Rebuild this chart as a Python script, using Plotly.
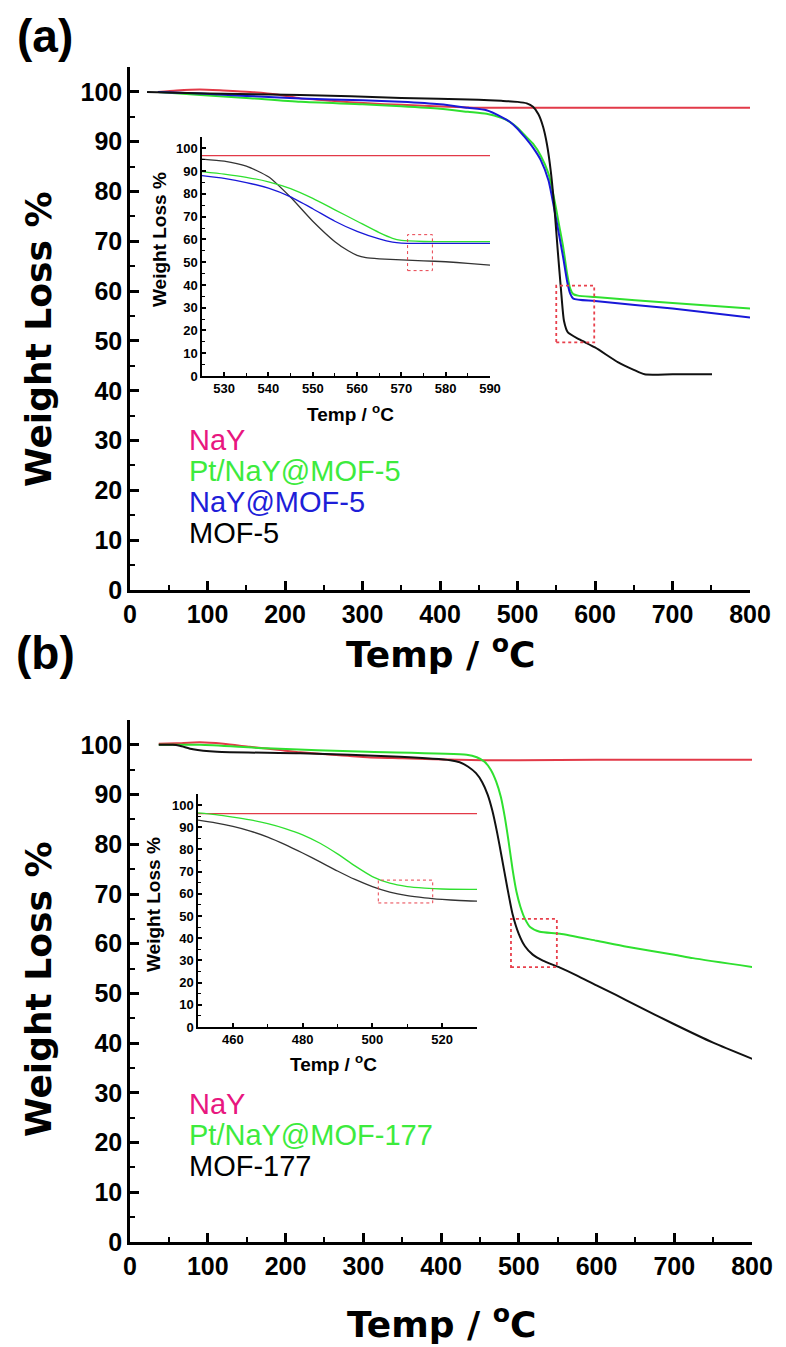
import plotly.graph_objects as go

W, H = 786, 1347

# ---------------- Panel (a) main data ----------------
a_nay_x = [36, 60, 90, 120, 155, 190, 220, 260, 307, 350, 393, 430, 457, 500, 600, 700, 800]
a_nay_y = [100, 100.3, 100.5, 100.3, 100.0, 99.5, 98.7, 98.2, 97.7, 97.4, 97.1, 96.9, 96.8, 96.8, 96.8, 96.8, 96.8]

a_pt_x = [36, 91, 150, 220, 300, 350, 400, 436, 460, 479, 490, 500, 510, 520, 530, 540, 548, 554, 559, 564, 568, 572, 578, 600, 700, 801]
a_pt_y = [100, 99.4, 98.8, 98.0, 97.5, 97.1, 96.6, 96.0, 95.6, 94.8, 94.0, 92.8, 91.2, 89.6, 87.2, 83.6, 78.0, 73.0, 68.8, 63.5, 60.5, 59.4, 59.1, 58.8, 57.6, 56.5]

a_naymof_x = [36, 91, 150, 220, 300, 350, 400, 436, 460, 479, 490, 500, 510, 520, 530, 540, 548, 554, 559, 564, 568, 572, 600, 700, 800]
a_naymof_y = [100, 99.7, 99.2, 98.7, 98.3, 98.0, 97.5, 96.8, 96.3, 95.0, 94.0, 92.6, 90.8, 88.8, 86.3, 82.2, 76.0, 71.0, 66.7, 62.0, 59.5, 58.5, 58.0, 56.5, 54.7]

a_mof_x = [22, 100, 220, 350, 450, 479, 500, 512, 520, 527, 533, 538, 543, 548, 552, 556, 560, 565, 580, 600, 630, 650, 664, 700, 751]
a_mof_y = [100, 99.7, 99.4, 98.8, 98.4, 98.2, 98.0, 97.7, 97.0, 95.5, 93.0, 89.5, 84.0, 76.0, 68.0, 60.5, 54.0, 51.7, 50.3, 48.7, 45.7, 44.2, 43.3, 43.3, 43.3]

# Panel (a) inset data
ai_nay_x = [525, 590]
ai_nay_y = [96.8, 96.8]
ai_mof_x = [525, 530, 535, 540, 545, 550, 555, 558, 560, 562, 565, 570, 575, 580, 585, 590]
ai_mof_y = [95.3, 94.4, 92.2, 87.5, 78.5, 68.0, 59.0, 55.0, 53.0, 52.0, 51.5, 51.0, 50.6, 50.2, 49.5, 48.7]
ai_pt_x = [525, 530, 535, 540, 545, 550, 555, 560, 565, 568, 570, 575, 580, 590]
ai_pt_y = [89.8, 88.7, 87.3, 85.3, 82.3, 78.0, 73.0, 68.0, 63.0, 60.5, 59.6, 59.1, 59.0, 59.0]
ai_naymof_x = [525, 530, 535, 540, 545, 550, 555, 560, 565, 568, 570, 575, 590]
ai_naymof_y = [88.0, 86.8, 85.0, 82.5, 78.7, 73.5, 68.0, 63.5, 60.2, 58.8, 58.4, 58.3, 58.3]

# zoom windows (dotted boxes)
a_box_x = [550, 599]
a_box_y = [49.7, 61.1]
ai_box_x = [571.4, 577]
ai_box_y = [46.3, 62.1]

# ---------------- Panel (b) main data ----------------
b_nay_x = [37, 60, 90, 120, 154, 190, 219, 260, 305, 350, 390, 454, 500, 600, 700, 801]
b_nay_y = [100.2, 100.3, 100.5, 100.2, 99.6, 99.0, 98.5, 98.0, 97.5, 97.3, 97.1, 96.9, 96.9, 97.0, 97.0, 97.0]

b_pt_x = [37, 90, 176, 305, 433, 446, 456, 464, 471, 477, 482, 487, 492, 497, 502, 508, 515, 527, 553, 600, 639, 700, 724, 801]
b_pt_y = [100, 100, 99.3, 98.6, 98.0, 97.5, 96.6, 95.0, 92.6, 89.5, 85.5, 80.5, 75.0, 70.5, 67.5, 65.0, 63.3, 62.4, 62.0, 60.6, 59.4, 57.8, 57.1, 55.3]

b_mof_x = [37, 55, 64, 81, 112, 219, 347, 412, 424, 435, 445, 453, 460, 466, 472, 478, 485, 492, 500, 508, 518, 531, 553, 575, 600, 625, 650, 700, 750, 801]
b_mof_y = [100, 100, 99.8, 99.1, 98.6, 98.3, 97.6, 96.9, 96.5, 95.6, 94.3, 92.5, 90.0, 86.8, 82.5, 77.5, 71.5, 66.0, 62.0, 59.5, 57.8, 56.6, 55.2, 53.6, 51.6, 49.7, 47.7, 43.8, 40.1, 36.8]

# Panel (b) inset data
bi_nay_x = [450, 530]
bi_nay_y = [96.2, 96.2]
bi_pt_x = [450, 455, 460, 465, 470, 475, 480, 485, 490, 495, 500, 505, 510, 515, 520, 530]
bi_pt_y = [96.5, 95.7, 94.6, 93.3, 91.6, 89.4, 86.6, 82.8, 78.0, 72.6, 67.8, 64.8, 63.3, 62.6, 62.2, 62.0]
bi_mof_x = [450, 455, 460, 465, 470, 475, 480, 485, 490, 495, 500, 505, 510, 515, 520, 525, 530]
bi_mof_y = [93.2, 92.0, 90.4, 88.3, 85.6, 82.2, 78.4, 74.4, 70.3, 66.5, 63.3, 60.8, 59.2, 58.2, 57.5, 57.0, 56.7]

b_box_x = [490, 549]
b_box_y = [55.3, 65.0]
bi_box_x = [501.7, 517.3]
bi_box_y = [55.9, 66.2]

legend_a = ["NaY", "Pt/NaY@MOF-5", "NaY@MOF-5", "MOF-5"]
legend_b = ["NaY", "Pt/NaY@MOF-177", "MOF-177"]

RED = "#E23A48"
GREEN = "#2FE02F"
BLUE = "#1818D8"
BLACK = "#111111"
TXT_RED = "#E8177F"
TXT_GREEN = "#3DEB3D"
TXT_BLUE = "#1E1ED8"

fig = go.Figure()

def add(x, y, xa, ya, color, w):
    fig.add_trace(go.Scatter(x=x, y=y, mode="lines", xaxis=xa, yaxis=ya,
                             line=dict(color=color, width=w, shape="spline", smoothing=0.6),
                             showlegend=False, hoverinfo="skip"))

# panel a main
add(a_nay_x, a_nay_y, "x", "y", RED, 2)
add(a_pt_x, a_pt_y, "x", "y", GREEN, 2)
add(a_naymof_x, a_naymof_y, "x", "y", BLUE, 2)
add(a_mof_x, a_mof_y, "x", "y", BLACK, 2)
# panel a inset
add(ai_nay_x, ai_nay_y, "x2", "y2", RED, 1.3)
add(ai_mof_x, ai_mof_y, "x2", "y2", "#333333", 1.3)
add(ai_pt_x, ai_pt_y, "x2", "y2", GREEN, 1.3)
add(ai_naymof_x, ai_naymof_y, "x2", "y2", BLUE, 1.3)
# panel b main
add(b_nay_x, b_nay_y, "x3", "y3", RED, 2)
add(b_pt_x, b_pt_y, "x3", "y3", GREEN, 2)
add(b_mof_x, b_mof_y, "x3", "y3", BLACK, 2)
# panel b inset
add(bi_nay_x, bi_nay_y, "x4", "y4", RED, 1.3)
add(bi_pt_x, bi_pt_y, "x4", "y4", GREEN, 1.3)
add(bi_mof_x, bi_mof_y, "x4", "y4", "#333333", 1.3)

def px(v):
    return v / W

def py(v):
    return 1 - v / H

TICKFONT = dict(family="Liberation Sans, Arial", size=25, color="black", weight="bold")
INSET_TICKFONT = dict(family="Liberation Sans, Arial", size=13, color="black", weight="bold")

def main_x(dom, anchor):
    return dict(domain=dom, anchor=anchor, range=[0, 800], dtick=100, tick0=0, automargin=False,
                showline=True, linewidth=2.5, linecolor="black", ticks="inside",
                ticklen=9, tickwidth=2.5, tickcolor="black", showgrid=False, zeroline=False,
                tickfont=TICKFONT,
                minor=dict(dtick=50, ticks="inside", ticklen=5, tickwidth=2, tickcolor="black"))

def main_y(dom, anchor):
    return dict(domain=dom, anchor=anchor, range=[0, 105], dtick=10, tick0=0, automargin=False,
                showline=True, linewidth=2.5, linecolor="black", ticks="inside",
                ticklen=9, tickwidth=2.5, tickcolor="black", showgrid=False, zeroline=False,
                tickfont=TICKFONT,
                minor=dict(dtick=5, ticks="inside", ticklen=5, tickwidth=2, tickcolor="black"))

def inset_x(dom, anchor, rng, dt):
    return dict(domain=dom, anchor=anchor, range=rng, dtick=dt, automargin=False,
                showline=True, linewidth=1.5, linecolor="black", ticks="inside",
                ticklen=4, tickwidth=1.5, tickcolor="black", showgrid=False, zeroline=False,
                tickfont=INSET_TICKFONT,
                minor=dict(dtick=dt / 2, ticks="inside", ticklen=3, tickwidth=1.2, tickcolor="black"))

def inset_y(dom, anchor):
    return dict(domain=dom, anchor=anchor, range=[0, 105], dtick=10, automargin=False,
                showline=True, linewidth=1.5, linecolor="black", ticks="inside",
                ticklen=4, tickwidth=1.5, tickcolor="black", showgrid=False, zeroline=False,
                tickfont=INSET_TICKFONT,
                minor=dict(dtick=5, ticks="inside", ticklen=3, tickwidth=1.2, tickcolor="black"))

fig.update_layout(
    width=W, height=H, margin=dict(l=0, r=0, t=0, b=0, pad=0, autoexpand=False),
    paper_bgcolor="white", plot_bgcolor="rgba(0,0,0,0)",
    xaxis=main_x([px(130), px(750)], "y"),
    yaxis=main_y([py(590), py(67)], "x"),
    xaxis2=inset_x([px(202), px(490)], "y2", [525, 590], 10),
    yaxis2=inset_y([py(376), py(137)], "x2"),
    xaxis3=main_x([px(130), px(752)], "y3"),
    yaxis3=main_y([py(1242), py(720)], "x3"),
    xaxis4=inset_x([px(198), px(477)], "y4", [450, 530], 20),
    yaxis4=inset_y([py(1027), py(794)], "x4"),
)

shapes = []
for bx, by, xr, yr, w in [(a_box_x, a_box_y, "x", "y", 1.8), (ai_box_x, ai_box_y, "x2", "y2", 1.0),
                           (b_box_x, b_box_y, "x3", "y3", 1.8), (bi_box_x, bi_box_y, "x4", "y4", 1.0)]:
    shapes.append(dict(type="rect", xref=xr, yref=yr, x0=bx[0], x1=bx[1], y0=by[0], y1=by[1],
                       line=dict(color="#E8404C", width=w, dash="dot"), layer="above"))
fig.update_layout(shapes=shapes)

TITLE = dict(family="DejaVu Sans", size=36, color="black", weight="bold")
ITITLE = dict(family="Liberation Sans, Arial", size=19, color="black", weight="bold")
LEG = dict(family="Liberation Sans, Arial", size=29)
ann = []
def text(t, x, y, font, angle=0, xanchor="center"):
    ann.append(dict(text=t, x=px(x), y=py(y), xref="paper", yref="paper", showarrow=False,
                    font=font, textangle=angle, xanchor=xanchor, yanchor="middle", borderpad=0))

text("(a)", 45, 36, dict(family="Liberation Sans", size=46, color="black", weight="bold"))
text("(b)", 45, 653, dict(family="Liberation Sans", size=46, color="black", weight="bold"))
text("Weight Loss %", 38, 340, TITLE, -90)
text("Temp / <sup>o</sup>C", 440, 652, TITLE)
text("Weight Loss %", 38, 990, TITLE, -90)
text("Temp / <sup>o</sup>C", 441, 1322, TITLE)
text("Weight Loss %", 160, 240, ITITLE, -90)
text("Temp / <sup>o</sup>C", 350, 413, ITITLE)
text("Weight Loss %", 153, 905, ITITLE, -90)
text("Temp / <sup>o</sup>C", 333, 1063, ITITLE)

for lbl, col, yy in zip(legend_a, [TXT_RED, TXT_GREEN, TXT_BLUE, "black"], [440, 471, 502, 533]):
    text(lbl, 188, yy, dict(LEG, color=col), xanchor="left")
for lbl, col, yy in zip(legend_b, [TXT_RED, TXT_GREEN, "black"], [1104, 1135, 1166]):
    text(lbl, 188, yy, dict(LEG, color=col), xanchor="left")

fig.update_layout(annotations=ann)
fig.write_html("out.html", config={"displayModeBar": False},
               post_script="document.body.style.margin='0';document.body.style.padding='0';")
